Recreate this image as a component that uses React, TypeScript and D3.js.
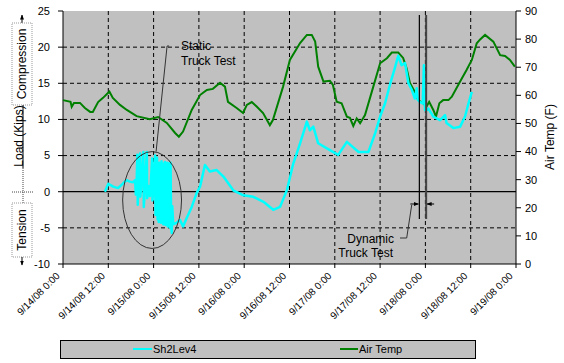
import React from "react";
import * as d3 from "d3";

// hours since 9/14/08 0:00, air temperature (F)
const airTemp: [number, number][] = [
  [0, 58.3], [2.0, 57.7], [2.3, 55.9], [2.9, 57.3], [4.5, 57.3], [5.8, 55.5], [7.2, 54.1], [7.9, 54.1],
  [9.3, 57.6], [10.6, 59.1], [11.9, 60.8], [12.3, 61.3], [13.2, 59.1], [15.1, 56.6], [16.9, 54.8],
  [19.5, 52.6], [23.0, 51.5], [25.2, 52.3], [27.5, 50.2], [29.7, 46.6], [30.7, 45.3], [31.8, 47.1],
  [34.1, 54.8], [36.3, 60.1], [38.1, 61.9], [39.7, 62.3], [41.6, 64.5], [42.9, 63.1], [43.7, 57.7],
  [46.0, 55.5], [47.7, 53.7], [48.7, 56.6], [50.0, 57.6], [51.3, 56.0], [53.0, 53.7], [54.8, 49.4],
  [55.6, 51.2], [58.3, 63.1], [60.1, 72.6], [62.8, 78.6], [64.6, 81.5], [65.9, 81.5], [66.8, 79.1],
  [67.6, 70.2], [69.0, 64.9], [70.7, 65.2], [71.5, 63.7], [72.5, 57.7], [73.8, 57.2], [75.2, 52.4],
  [76.0, 52.0], [76.9, 49.1], [77.8, 51.8], [78.7, 50.1], [80.0, 53.0], [82.2, 63.1], [84.0, 71.4],
  [85.8, 73.2], [87.1, 75.2], [88.8, 75.2], [90.1, 73.3], [91.0, 69.7], [91.9, 64.4], [93.2, 61.2],
  [94.1, 58.3], [95.4, 57.2], [96.3, 56.0], [97.0, 57.7], [98.1, 54.8], [98.8, 52.4], [99.7, 57.2],
  [100.7, 58.3], [102.1, 58.3], [103.0, 59.5], [105.2, 64.9], [106.9, 69.0], [108.3, 72.6],
  [109.6, 78.5], [110.5, 79.9], [111.8, 81.5], [114.0, 79.1], [115.8, 74.3], [117.1, 74.0],
  [118.4, 72.6], [119.7, 70.2],
];

// hours since 9/14/08 0:00, load (kips)
const sh2Lev4: [number, number][] = [
  [11.1, 0], [12.0, 1.1], [13.3, 0.7], [14.6, 0.5], [16.0, 1.2], [16.9, 1.6], [17.7, 1.4], [18.5, 1.3],
  [19.1, 1.6], [19.3, -0.4], [19.5, 1.2], [19.7, 5.1], [19.8, -1.8], [20.0, 1.0], [20.4, 5.3],
  [20.5, -0.7], [20.8, 1.5], [21.3, 5.5], [21.4, -2.1], [21.7, 0.5], [22.2, 5.5], [22.3, -0.9],
  [22.6, 0.8], [23.0, -0.6], [23.3, 1.5], [23.6, 4.6], [23.7, -1.2], [24.0, 0.8], [24.4, 5.0],
  [24.5, -3.2], [24.7, 0.5], [24.9, 4.7], [25.05, -3.8], [25.2, 3.8], [25.35, -4.2], [25.5, 4.0],
  [25.65, -3.5], [25.8, 3.6], [25.95, -4.3], [26.1, 4.2], [26.25, -3.9], [26.4, 3.9], [26.55, -4.5],
  [26.7, 3.5], [26.85, -4.0], [27.0, 4.1], [27.15, -4.6], [27.3, 3.7], [27.45, -4.2], [27.6, 4.0],
  [27.75, -4.8], [27.9, 3.9], [28.05, -4.4], [28.2, 3.8], [28.35, -5.0], [28.5, 4.0], [28.65, -4.6],
  [28.8, -5.7], [28.95, -2.0], [29.2, -4.5], [30.1, -4.3], [31.0, -3.9], [31.8, -4.8], [32.8, -3.6],
  [34.1, -2.1], [35.4, -0.2], [36.3, 0.7], [37.6, 3.7], [38.9, 2.8], [40.7, 3.0], [42.5, 2.1],
  [45.1, 0.2], [47.8, -0.5], [50.4, -0.7], [53.1, -1.4], [55.7, -2.5], [57.5, -2.1], [59.3, 0.2],
  [61.0, 3.9], [62.8, 6.7], [64.6, 9.7], [65.4, 8.5], [66.3, 9.0], [67.6, 6.7], [69.9, 6.0],
  [72.9, 5.1], [75.2, 6.9], [78.3, 5.5], [80.9, 5.5], [82.7, 8.1], [84.0, 10.4], [85.3, 12.2],
  [86.6, 14.8], [87.9, 17.1], [88.8, 18.8], [89.7, 17.5], [90.6, 17.8], [91.5, 15.0], [92.4, 14.1],
  [93.2, 12.9], [93.7, 14.3], [94.0, 12.7], [94.6, 12.4], [95.3, 12.2], [95.6, 17.5], [95.9, 11.3],
  [96.8, 11.5], [98.1, 10.4], [99.9, 9.9], [101.2, 10.6], [101.6, 9.5], [103.4, 8.8], [105.2, 9.0],
  [106.5, 10.4], [107.4, 12.2], [108.3, 13.8],
];

const xTickHours = [0, 12, 24, 36, 48, 60, 72, 84, 96, 108, 120];
const xTickLabels = [
  "9/14/08 0:00", "9/14/08 12:00", "9/15/08 0:00", "9/15/08 12:00", "9/16/08 0:00",
  "9/16/08 12:00", "9/17/08 0:00", "9/17/08 12:00", "9/18/08 0:00", "9/18/08 12:00", "9/19/08 0:00",
];
const leftTicks = [-10, -5, 0, 5, 10, 15, 20, 25];
const rightTicks = [0, 10, 20, 30, 40, 50, 60, 70, 80, 90];
const dynamicTestHours = [94.4, 96.2];
const staticTest = { hour: 23.6, kips: -1.15, rxHours: 7.8, ryKips: 6.7 };

const FONT = "Arial, 'Liberation Sans', sans-serif";

export default function App() {
  const L = 63, R = 516, T = 11, B = 264;
  const x = d3.scaleLinear().domain([0, 120]).range([L, R]);
  const yL = d3.scaleLinear().domain([-10, 25]).range([B, T]);
  const yR = d3.scaleLinear().domain([0, 90]).range([B, T]);

  const tempLine = d3.line<[number, number]>().x((d) => x(d[0])).y((d) => yR(d[1]));
  const loadLine = d3.line<[number, number]>().x((d) => x(d[0])).y((d) => yL(d[1]));

  const ex = x(staticTest.hour), ey = yL(staticTest.kips);
  const erx = x(staticTest.rxHours) - x(0);
  const ery = yL(0) - yL(staticTest.ryKips);
  const d1 = x(dynamicTestHours[0]), d2 = x(dynamicTestHours[1]);

  return (
    <svg width={564} height={363} style={{ position: "absolute", left: 0, top: 0, background: "#fff" }} fontFamily={FONT}>
      <defs>
        <marker id="ah" viewBox="0 0 10 10" refX="9" refY="5" markerWidth="5" markerHeight="5" orient="auto">
          <path d="M0,1 L10,5 L0,9 Z" fill="#000" />
        </marker>
      </defs>
      <rect x={L} y={T} width={R - L} height={B - T} fill="#C0C0C0" />
      {/* grid */}
      {leftTicks.filter((t) => t !== 0 && t !== -10 && t !== 25).map((t) => (
        <line key={"h" + t} x1={L} x2={R} y1={yL(t)} y2={yL(t)} stroke="#000" strokeWidth={1} strokeDasharray="4,3" />
      ))}
      {xTickHours.slice(1, -1).map((h) => (
        <line key={"v" + h} x1={x(h)} x2={x(h)} y1={T} y2={B} stroke="#000" strokeWidth={1} strokeDasharray="4,3" />
      ))}
      <line x1={L} x2={R} y1={yL(0)} y2={yL(0)} stroke="#000" strokeWidth={1.2} />
      {/* axes */}
      <line x1={L} x2={L} y1={T} y2={B} stroke="#000" />
      <line x1={R} x2={R} y1={T} y2={B} stroke="#000" />
      <line x1={L} x2={R} y1={B} y2={B} stroke="#000" />
      {leftTicks.map((t) => (
        <g key={"lt" + t}>
          <line x1={L - 5} x2={L} y1={yL(t)} y2={yL(t)} stroke="#000" />
          <text x={L - 13} y={yL(t)} dy="0.35em" textAnchor="end" fontSize={11}>{t}</text>
        </g>
      ))}
      {rightTicks.map((t) => (
        <g key={"rt" + t}>
          <line x1={R} x2={R + 5} y1={yR(t)} y2={yR(t)} stroke="#000" />
          <text x={R + 9} y={yR(t)} dy="0.35em" textAnchor="start" fontSize={11}>{t}</text>
        </g>
      ))}
      {xTickHours.map((h, i) => (
        <g key={"xt" + h}>
          <line x1={x(h)} x2={x(h)} y1={B} y2={B + 4} stroke="#000" />
          <text transform={`translate(${x(h) - 5},${B + 10}) rotate(-45)`} textAnchor="end" dy="0.35em" fontSize={10}>
            {xTickLabels[i]}
          </text>
        </g>
      ))}
      {/* series */}
      <path d={tempLine(airTemp) || ""} fill="none" stroke="#008000" strokeWidth={2} />
      <path d={loadLine(sh2Lev4) || ""} fill="none" stroke="#00FFFF" strokeWidth={2.5} strokeLinejoin="round" />
      {/* static truck test */}
      <ellipse cx={ex} cy={ey} rx={erx} ry={ery} fill="none" stroke="#333" strokeWidth={1} />
      <path d={`M${ex + 4},${ey - ery} L${ex + 15},46 L${ex + 17},46`} fill="none" stroke="#333" strokeWidth={1} />
      <text x={181} y={46} dy="0.35em" fontSize={12}>Static</text>
      <text x={181} y={61} dy="0.35em" fontSize={12}>Truck Test</text>
      {/* dynamic truck test */}
      <line x1={d1} x2={d1} y1={15} y2={219} stroke="#000" strokeWidth={1.2} />
      <line x1={d2} x2={d2} y1={15} y2={219} stroke="#444" strokeWidth={2} />
      <line x1={d1 - 9} x2={d1 - 1} y1={204} y2={204} stroke="#000" markerEnd="url(#ah)" />
      <line x1={d2 + 8} x2={d2 + 1} y1={204} y2={204} stroke="#000" markerEnd="url(#ah)" />
      <path d={`M400,238 L406.7,238 L411.7,205`} fill="none" stroke="#333" strokeWidth={1} />
      <text x={394} y={239} dy="0.35em" textAnchor="end" fontSize={12}>Dynamic</text>
      <text x={393} y={253} dy="0.35em" textAnchor="end" fontSize={12}>Truck Test</text>
      {/* left axis title */}
      <line x1={22} x2={22} y1={23} y2={15} stroke="#000" markerEnd="url(#ah)" />
      <rect x={12} y={23} width={20} height={82} fill="none" stroke="#999" strokeDasharray="1,1" />
      <text transform="translate(22,64) rotate(-90)" textAnchor="middle" dy="0.35em" fontSize={12}>Compression</text>
      <line x1={23} x2={23} y1={105} y2={168} stroke="#000" />
      <text transform="translate(22.5,136) rotate(-90)" textAnchor="middle" fontSize={12}>Load (Kips)</text>
      <line x1={23} x2={23} y1={168} y2={203} stroke="#444" strokeDasharray="1,1" />
      <line x1={12} x2={33} y1={192} y2={192} stroke="#444" strokeDasharray="1,1" />
      <rect x={12} y={203} width={20} height={54} fill="none" stroke="#999" strokeDasharray="1,1" />
      <text transform="translate(22,230) rotate(-90)" textAnchor="middle" dy="0.35em" fontSize={12}>Tension</text>
      <line x1={22} x2={22} y1={257} y2={265} stroke="#000" markerEnd="url(#ah)" />
      {/* right axis title */}
      <text transform="translate(550,137) rotate(-90)" textAnchor="middle" dy="0.35em" fontSize={12}>Air Temp (F)</text>
      {/* legend */}
      <rect x={60.5} y={340.5} width={415} height={18} fill="#C0C0C0" stroke="#000" />
      <line x1={133} x2={152} y1={349} y2={349} stroke="#00FFFF" strokeWidth={2} />
      <text x={153} y={349.5} dy="0.35em" fontSize={11}>Sh2Lev4</text>
      <line x1={340} x2={358} y1={349} y2={349} stroke="#008000" strokeWidth={2} />
      <text x={359} y={349.5} dy="0.35em" fontSize={11}>Air Temp</text>
    </svg>
  );
}
